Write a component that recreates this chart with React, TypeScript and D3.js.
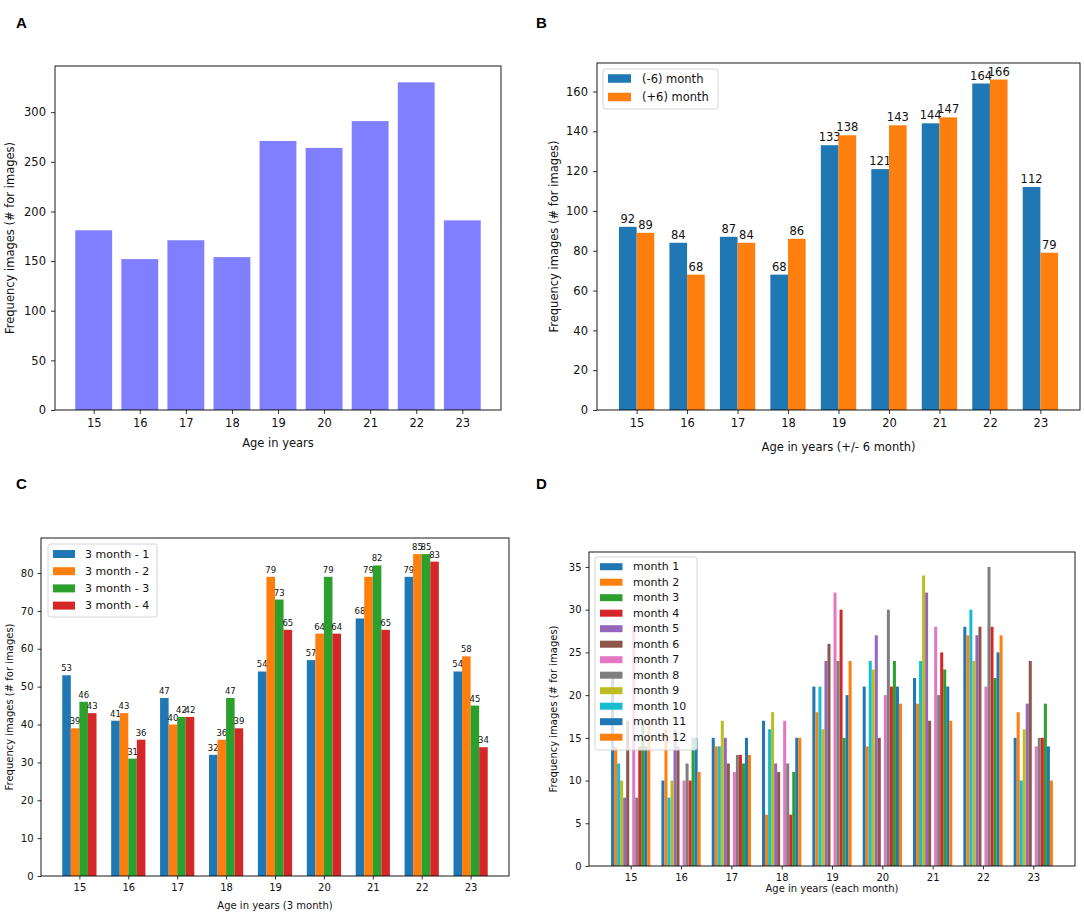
import React, { useEffect, useRef } from 'react';
import * as d3 from 'd3';

// ages on the x axis of every panel
const ages = [15, 16, 17, 18, 19, 20, 21, 22, 23];

// A: all images per age
const totalImages = [181, 152, 171, 154, 271, 264, 291, 330, 191];

// B: split in half-years
const minusSixMonth = [92, 84, 87, 68, 133, 121, 144, 164, 112];
const plusSixMonth = [89, 68, 84, 86, 138, 143, 147, 166, 79];
const halfLabels = ['(-6) month', '(+6) month'];

// C: split in 3-month blocks
const threeMonth1 = [53, 41, 47, 32, 54, 57, 68, 79, 54];
const threeMonth2 = [39, 43, 40, 36, 79, 64, 79, 85, 58];
const threeMonth3 = [46, 31, 42, 47, 73, 79, 82, 85, 45];
const threeMonth4 = [43, 36, 42, 39, 65, 64, 65, 83, 34];
const quarterLabels = ['3 month - 1', '3 month - 2', '3 month - 3', '3 month - 4'];

// D: each month
const month1 = [22, 10, 15, 17, 21, 21, 22, 28, 15];
const month2 = [14, 16, 14, 6, 18, 14, 19, 27, 18];
const month3 = [17, 15, 12, 11, 15, 24, 23, 22, 19];
const month4 = [14, 10, 13, 6, 30, 21, 25, 28, 15];
const month5 = [8, 16, 15, 12, 24, 27, 32, 27, 19];
const month6 = [17, 14, 12, 11, 26, 15, 17, 28, 24];
const month7 = [28, 10, 11, 17, 32, 20, 28, 21, 14];
const month8 = [8, 12, 13, 12, 24, 30, 20, 35, 15];
const month9 = [10, 10, 17, 18, 16, 23, 34, 24, 16];
const month10 = [12, 8, 14, 16, 21, 24, 24, 30, 10];
const month11 = [14, 15, 15, 15, 20, 21, 21, 25, 14];
const month12 = [17, 11, 13, 15, 24, 19, 17, 27, 10];
const monthLabels = ['month 1', 'month 2', 'month 3', 'month 4', 'month 5', 'month 6',
  'month 7', 'month 8', 'month 9', 'month 10', 'month 11', 'month 12'];

const yTicksA = [0, 50, 100, 150, 200, 250, 300];
const yTicksB = [0, 20, 40, 60, 80, 100, 120, 140, 160];
const yTicksC = [0, 10, 20, 30, 40, 50, 60, 70, 80];
const yTicksD = [0, 5, 10, 15, 20, 25, 30, 35];

const tab10 = d3.schemeCategory10;
const FONT = "'DejaVu Sans', sans-serif";

type Box = { left: number; right: number; top: number; bottom: number };

const padded = (lo: number, hi: number): [number, number] => {
  const m = (hi - lo) * 0.05;
  return [lo - m, hi + m];
};

function drawFrame(g: any, x: any, y: any, box: Box, yTicks: number[], s: any) {
  const xa = g.append('g')
    .attr('transform', `translate(0,${box.bottom})`)
    .call(d3.axisBottom(x).tickValues(ages).tickFormat(d3.format('d')).tickSize(s.tick).tickPadding(s.pad));
  const ya = g.append('g')
    .attr('transform', `translate(${box.left},0)`)
    .call(d3.axisLeft(y).tickValues(yTicks).tickFormat(d3.format('d')).tickSize(s.tick).tickPadding(s.pad));
  [xa, ya].forEach((a) => {
    a.select('.domain').remove();
    a.attr('font-family', FONT).attr('font-size', s.fs);
    a.selectAll('line').attr('stroke', '#000').attr('stroke-width', 0.8);
    a.selectAll('text').attr('fill', '#111');
  });

  g.append('rect')
    .attr('x', box.left).attr('y', box.top)
    .attr('width', box.right - box.left).attr('height', box.bottom - box.top)
    .attr('fill', 'none').attr('stroke', '#000').attr('stroke-width', 0.9);

  g.append('text')
    .attr('x', (box.left + box.right) / 2).attr('y', s.xlabY)
    .attr('text-anchor', 'middle').attr('dominant-baseline', 'central')
    .attr('font-family', FONT).attr('font-size', s.fs).attr('fill', '#111')
    .text(s.xlab);

  g.append('text')
    .attr('transform', `translate(${s.ylabX},${(box.top + box.bottom) / 2}) rotate(-90)`)
    .attr('text-anchor', 'middle').attr('dominant-baseline', 'central')
    .attr('font-family', FONT).attr('font-size', s.fs).attr('fill', '#111')
    .text('Frequency images (# for images)');
}

function drawLegend(g: any, labels: string[], colors: string[], L: any) {
  const lg = g.append('g');
  lg.append('rect')
    .attr('x', L.x0).attr('y', L.y0).attr('width', L.x1 - L.x0).attr('height', L.y1 - L.y0)
    .attr('rx', 2.5).attr('fill', '#fff').attr('fill-opacity', 0.8)
    .attr('stroke', '#d4d4d4').attr('stroke-width', 1);
  const rows = lg.selectAll('g.row').data(labels).join('g').attr('class', 'row')
    .attr('transform', (_: any, i: number) => `translate(0,${L.row0 + i * L.step})`);
  rows.append('rect')
    .attr('x', L.px).attr('y', -L.ph / 2).attr('width', L.pw).attr('height', L.ph)
    .attr('fill', (_: any, i: number) => colors[i]);
  rows.append('text')
    .attr('x', L.tx).attr('dominant-baseline', 'central')
    .attr('font-family', FONT).attr('font-size', L.fs).attr('fill', '#111')
    .text((d: string) => d);
}

function panelLetter(svg: any, letter: string, x: number, y: number) {
  svg.append('text').attr('x', x).attr('y', y)
    .attr('font-family', "'Liberation Sans', Arial, sans-serif")
    .attr('font-weight', 'bold').attr('font-size', 15).attr('fill', '#000')
    .text(letter);
}

export default function App() {
  const svgRef = useRef<SVGSVGElement | null>(null);

  useEffect(() => {
    const svg = d3.select(svgRef.current);
    svg.selectAll('*').remove();

    // ---------- A ----------
    {
      const box = { left: 55, right: 501, top: 66, bottom: 410 };
      const w = 0.8;
      const x = d3.scaleLinear().domain(padded(ages[0] - w / 2, ages[8] + w / 2)).range([box.left, box.right]);
      const y = d3.scaleLinear().domain([0, d3.max(totalImages)! * 1.05]).range([box.bottom, box.top]);
      const g = svg.append('g');
      g.selectAll('rect.bar').data(ages).join('rect').attr('class', 'bar')
        .attr('x', (d: number) => x(d - w / 2)).attr('width', x(w) - x(0))
        .attr('y', (_: number, i: number) => y(totalImages[i]))
        .attr('height', (_: number, i: number) => y(0) - y(totalImages[i]))
        .attr('fill', '#7f7fff');
      drawFrame(g, x, y, box, yTicksA, { fs: 11.5, tick: 4, pad: 5, xlab: 'Age in years', xlabY: 443, ylabX: 10 });
      panelLetter(svg, 'A', 16, 28);
    }

    // ---------- B ----------
    {
      const box = { left: 597, right: 1080, top: 63, bottom: 410 };
      const w = 0.35;
      const x = d3.scaleLinear().domain(padded(ages[0] - w, ages[8] + w)).range([box.left, box.right]);
      const ymax = d3.max([...minusSixMonth, ...plusSixMonth])! * 1.05;
      const y = d3.scaleLinear().domain([0, ymax]).range([box.bottom, box.top]);
      const g = svg.append('g');
      [minusSixMonth, plusSixMonth].forEach((vals, s) => {
        const off = s === 0 ? -w : 0;
        g.selectAll(`rect.b${s}`).data(ages).join('rect').attr('class', `b${s}`)
          .attr('x', (d: number) => x(d + off)).attr('width', x(w) - x(0))
          .attr('y', (_: number, i: number) => y(vals[i]))
          .attr('height', (_: number, i: number) => y(0) - y(vals[i]))
          .attr('fill', tab10[s]);
        g.selectAll(`text.bl${s}`).data(ages).join('text').attr('class', `bl${s}`)
          .attr('x', (d: number) => x(d + off + w / 2)).attr('y', (_: number, i: number) => y(vals[i]) - 4)
          .attr('text-anchor', 'middle').attr('font-family', FONT).attr('font-size', 11.5).attr('fill', '#111')
          .text((_: number, i: number) => vals[i]);
      });
      drawFrame(g, x, y, box, yTicksB, { fs: 11.5, tick: 4, pad: 5, xlab: 'Age in years (+/- 6 month)', xlabY: 447, ylabX: 554 });
      drawLegend(g, halfLabels, [tab10[0], tab10[1]], {
        x0: 603, y0: 69, x1: 718, y1: 109, row0: 78.5, step: 18.5,
        px: 608, pw: 23, ph: 8.5, tx: 642, fs: 11.5,
      });
      panelLetter(svg, 'B', 536, 28);
    }

    // ---------- C ----------
    {
      const box = { left: 41, right: 509, top: 538, bottom: 876 };
      const w = 0.175;
      const series = [threeMonth1, threeMonth2, threeMonth3, threeMonth4];
      const x = d3.scaleLinear().domain(padded(ages[0] - 2 * w, ages[8] + 2 * w)).range([box.left, box.right]);
      const ymax = d3.max(series.flat())! * 1.05;
      const y = d3.scaleLinear().domain([0, ymax]).range([box.bottom, box.top]);
      const g = svg.append('g');
      series.forEach((vals, s) => {
        const off = (s - 2) * w;
        g.selectAll(`rect.c${s}`).data(ages).join('rect').attr('class', `c${s}`)
          .attr('x', (d: number) => x(d + off)).attr('width', x(w) - x(0))
          .attr('y', (_: number, i: number) => y(vals[i]))
          .attr('height', (_: number, i: number) => y(0) - y(vals[i]))
          .attr('fill', tab10[s]);
        g.selectAll(`text.cl${s}`).data(ages).join('text').attr('class', `cl${s}`)
          .attr('x', (d: number) => x(d + off + w / 2)).attr('y', (_: number, i: number) => y(vals[i]) - 4)
          .attr('text-anchor', 'middle').attr('font-family', FONT).attr('font-size', 8.5).attr('fill', '#111')
          .text((_: number, i: number) => vals[i]);
      });
      drawFrame(g, x, y, box, yTicksC, { fs: 10, tick: 3.5, pad: 4, xlab: 'Age in years (3 month)', xlabY: 905, ylabX: 9 });
      drawLegend(g, quarterLabels, tab10.slice(0, 4), {
        x0: 48, y0: 544, x1: 157, y1: 617, row0: 554, step: 17.2,
        px: 53, pw: 22, ph: 8, tx: 85, fs: 11,
      });
      panelLetter(svg, 'C', 16, 489);
    }

    // ---------- D ----------
    {
      const box = { left: 589, right: 1075, top: 552, bottom: 866 };
      const w = 0.06;
      const series = [month1, month2, month3, month4, month5, month6,
        month7, month8, month9, month10, month11, month12];
      // slot of each month inside an age group (centre slot left empty)
      const slot = [-6, -5, 4, 3, -2, -1, 1, 2, -3, -4, 5, 6];
      const colors = series.map((_, i) => tab10[i % 10]);
      const x = d3.scaleLinear().domain(padded(ages[0] - 6.5 * w, ages[8] + 6.5 * w)).range([box.left, box.right]);
      const ymax = d3.max(series.flat())! * 1.05;
      const y = d3.scaleLinear().domain([0, ymax]).range([box.bottom, box.top]);
      const g = svg.append('g');
      series.forEach((vals, s) => {
        const off = slot[s] * w - w / 2;
        g.selectAll(`rect.d${s}`).data(ages).join('rect').attr('class', `d${s}`)
          .attr('x', (d: number) => x(d + off)).attr('width', x(w) - x(0))
          .attr('y', (_: number, i: number) => y(vals[i]))
          .attr('height', (_: number, i: number) => y(0) - y(vals[i]))
          .attr('fill', colors[s]);
      });
      drawFrame(g, x, y, box, yTicksD, { fs: 10, tick: 3.5, pad: 4, xlab: 'Age in years (each month)', xlabY: 888, ylabX: 553 });
      drawLegend(g, monthLabels, colors, {
        x0: 595, y0: 557, x1: 697, y1: 750, row0: 566.7, step: 15.5,
        px: 600, pw: 22.5, ph: 7, tx: 633, fs: 11,
      });
      panelLetter(svg, 'D', 536, 489);
    }
  }, []);

  return (
    <svg
      ref={svgRef}
      width={1084}
      height={914}
      style={{ position: 'absolute', left: 0, top: 0, background: '#fff' }}
    />
  );
}
